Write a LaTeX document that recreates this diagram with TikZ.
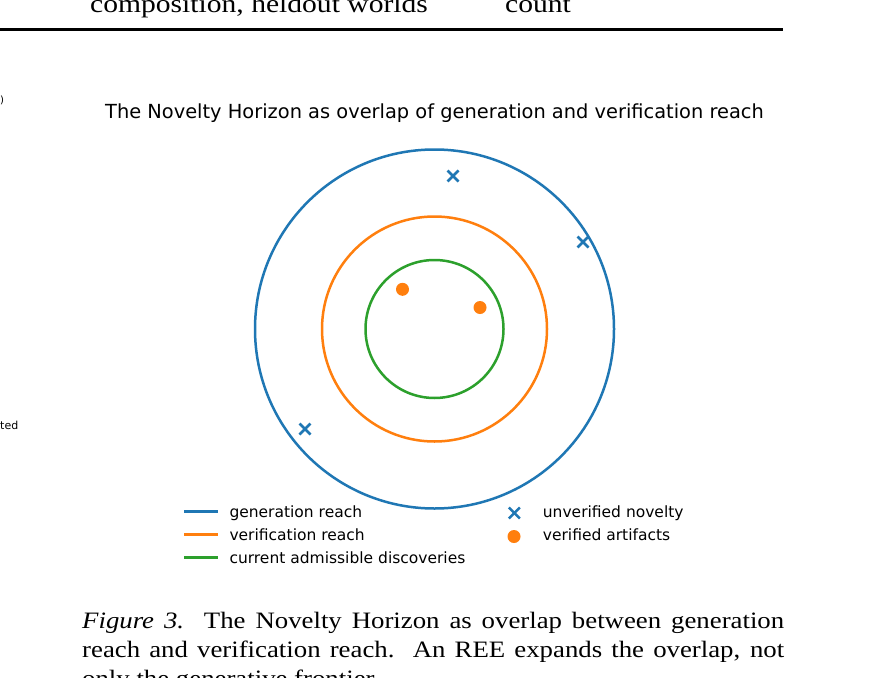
\documentclass[tikz,border=0pt]{standalone}
\usepackage{fontspec}
\usetikzlibrary{calc}
\setmainfont{Liberation Serif}
\newfontfamily\djv{DejaVu Sans}
\definecolor{mplblue}{HTML}{1F77B4}
\definecolor{mplorange}{HTML}{FF7F0E}
\definecolor{mplgreen}{HTML}{2CA02C}
\tikzset{
  ring/.style={line width=2.5pt},
  xmark/.style={mplblue, line width=2.5pt},
  vdot/.style={circle, fill=mplorange, inner sep=0pt, minimum size=13pt},
  legtext/.style={anchor=base west, inner sep=0pt, font=\djv\fontsize{15.5}{18}\selectfont},
  legline/.style={line width=2.6pt},
  captext/.style={anchor=base west, inner sep=0pt, font=\fontsize{23.5}{29}\selectfont},
  toptext/.style={anchor=base west, inner sep=0pt, font=\fontsize{25.5}{30}\selectfont},
}
\begin{document}
\begin{tikzpicture}[x=1pt,y=-1pt]
\useasboundingbox (0,0) rectangle (869,677);
\clip (0,0) rectangle (869,677);
\fill[white] (0,0) rectangle (869,677);
% top remnants
\node[toptext] (toptxt1) at (90,13) {\scalebox{1.16}[1]{composition, heldout worlds}};
\node[toptext] (toptxt2) at (505,13) {\scalebox{1.16}[1]{count}};
\draw[line width=2.5pt] (0,29.7) -- (783,29.7);
% left clipped fragments
\node[anchor=west, inner sep=0pt, font=\djv\fontsize{10}{11}\selectfont] (lfrag1) at (0,100) {)};
\node[anchor=west, inner sep=0pt, font=\djv\fontsize{11}{12}\selectfont] (lfrag2) at (0,425.5) {ted};
% title
\node[anchor=base, inner sep=0pt, font=\djv\fontsize{19.4}{23}\selectfont] (title) at (434.5,118)
  {The Novelty Horizon as overlap of generation and verification reach};
% circles
\coordinate (c) at (434.5,329);
\draw[ring, mplblue] (c) circle[radius=179.5];
\draw[ring, mplorange] (c) circle[radius=112.5];
\draw[ring, mplgreen] (c) circle[radius=69];
% unverified novelty crosses
\foreach \n/\px/\py in {x1/453/176, x2/583/242, x3/305/429}{
  \coordinate (\n) at (\px,\py);
  \draw[xmark] ($(\n)+(-5.5,-5.5)$) -- ($(\n)+(5.5,5.5)$);
  \draw[xmark] ($(\n)+(-5.5,5.5)$) -- ($(\n)+(5.5,-5.5)$);
}
% verified artifacts
\node[vdot] (d1) at (402.5,289.3) {};
\node[vdot] (d2) at (480,307.5) {};
% legend
\coordinate (l1a) at (184,511.5); \coordinate (l1b) at (218,511.5);
\coordinate (l2a) at (184,534.5); \coordinate (l2b) at (218,534.5);
\coordinate (l3a) at (184,557.7); \coordinate (l3b) at (218,557.7);
\draw[legline, mplblue] (l1a) -- (l1b);
\draw[legline, mplorange] (l2a) -- (l2b);
\draw[legline, mplgreen] (l3a) -- (l3b);
\node[legtext] (t1) at (229.3,517) {generation reach};
\node[legtext] (t2) at (229.3,540) {verification reach};
\node[legtext] (t3) at (229.3,563.2) {current admissible discoveries};
\coordinate (lx) at (514.3,513);
\draw[xmark] ($(lx)+(-5.5,-5.5)$) -- ($(lx)+(5.5,5.5)$);
\draw[xmark] ($(lx)+(-5.5,5.5)$) -- ($(lx)+(5.5,-5.5)$);
\node[vdot] (ld) at (514,536.5) {};
\node[legtext] (t4) at (542.7,517) {unverified novelty};
\node[legtext] (t5) at (542.7,540) {verified artifacts};
% caption
\node[captext] (cap1) at (82,628) {\scalebox{1.14}[1]{\makebox[615.8pt][s]{\textit{Figure 3.}\ \ The Novelty Horizon as overlap between generation}}};
\node[captext] (cap2) at (82,657) {\scalebox{1.14}[1]{\makebox[615.8pt][s]{reach and verification reach.\ \ An REE expands the overlap, not}}};
\node[captext] (cap3) at (82,686) {\scalebox{1.14}[1]{only the generative frontier.}};
\end{tikzpicture}
\end{document}
